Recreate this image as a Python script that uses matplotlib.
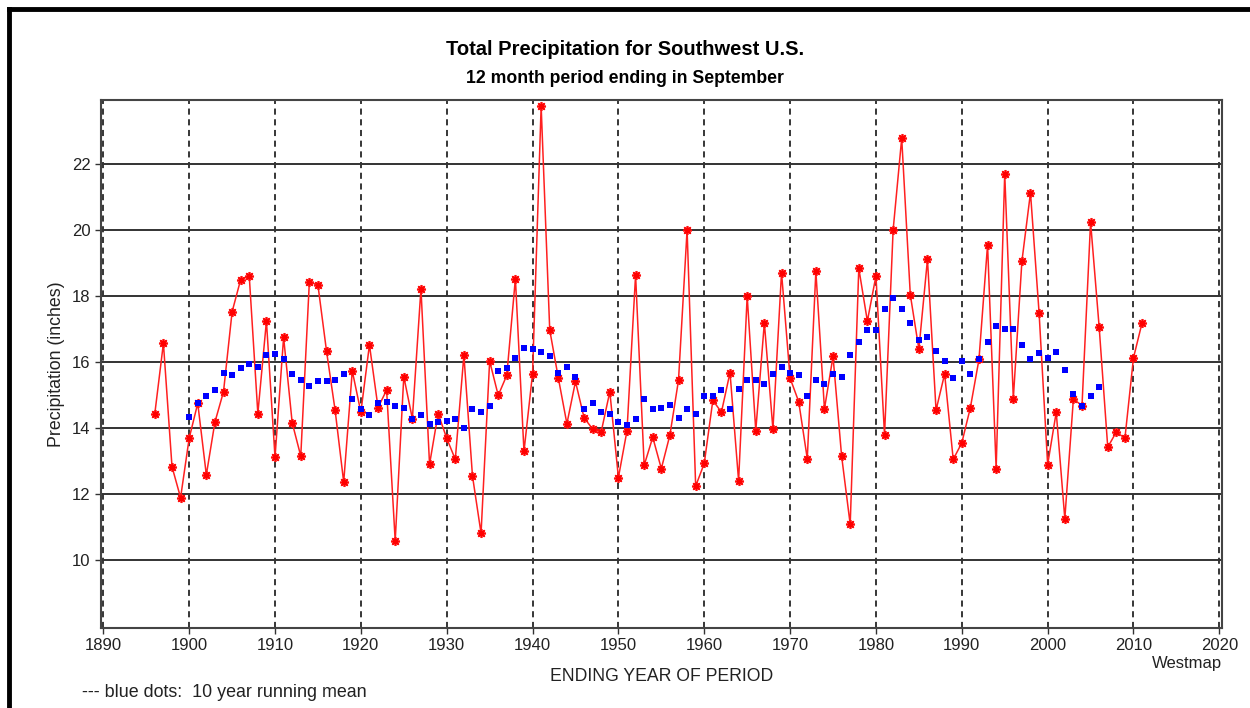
import numpy as np
import matplotlib
matplotlib.use("Agg")
import matplotlib.pyplot as plt
from matplotlib.lines import Line2D

plt.rcParams['font.family'] = ['Liberation Sans', 'DejaVu Sans']

# Annual totals (inches), 12 month period ending in September
years = np.arange(1896, 2012)
precip = [
    14.44, 16.57, 12.83, 11.89, 13.69, 14.75, 12.58, 14.18, 15.10, 17.52,  # 1896-1905
    18.50, 18.60, 14.44, 17.24, 13.11, 16.75, 14.16, 13.15, 18.43, 18.33,  # 1906-1915
    16.33, 14.54, 12.36, 15.73, 14.48, 16.52, 14.62, 15.15, 10.58, 15.56,  # 1916-1925
    14.28, 18.22, 12.90, 14.44, 13.69, 13.05, 16.21, 12.55, 10.81, 16.03,  # 1926-1935
    14.99, 15.60, 18.53, 13.29, 15.65, 23.76, 16.97, 15.52, 14.13, 15.41,  # 1936-1945
    14.31, 13.97, 13.89, 15.10, 12.50, 13.92, 18.64, 12.87, 13.72, 12.77,  # 1946-1955
    13.79, 15.45, 20.00, 12.24, 12.93, 14.84, 14.48, 15.68, 12.40, 18.00,  # 1956-1965
    13.92, 17.19, 13.96, 18.71, 15.51, 14.80, 13.07, 18.75, 14.58, 16.17,  # 1966-1975
    13.15, 11.08, 18.84, 17.24, 18.61, 13.79, 20.00, 22.78, 18.04, 16.39,  # 1976-1985
    19.11, 14.54, 15.64, 13.05, 13.55, 14.62, 16.08, 19.55, 12.77, 21.71,  # 1986-1995
    14.89, 19.05, 21.13, 17.50, 12.89, 14.48, 11.25, 14.89, 14.67, 20.24,  # 1996-2005
    17.06, 13.42, 13.88, 13.69, 16.13, 17.19,                              # 2006-2011
]

# 10 year running mean, 1900-2006
mean_years = np.arange(1900, 2007)
running_mean = [
    14.34, 14.75, 14.98, 15.15, 15.68, 15.60, 15.81, 15.95, 15.86, 16.21,  # 1900-1909
    16.25, 16.08, 15.64, 15.45, 15.28, 15.41, 15.41, 15.45, 15.64, 14.89,  # 1910-1919
    14.59, 14.39, 14.75, 14.80, 14.66, 14.62, 14.28, 14.39, 14.13, 14.18,  # 1920-1929
    14.22, 14.26, 13.99, 14.58, 14.48, 14.66, 15.73, 15.81, 16.12, 16.43,  # 1930-1939
    16.39, 16.30, 16.17, 15.68, 15.86, 15.56, 14.58, 14.75, 14.48, 14.44,  # 1940-1949
    14.18, 14.09, 14.26, 14.89, 14.58, 14.62, 14.71, 14.31, 14.58, 14.44,  # 1950-1959
    14.98, 14.98, 15.15, 14.58, 15.19, 15.45, 15.45, 15.33, 15.64, 15.86,  # 1960-1969
    15.68, 15.60, 14.98, 15.45, 15.33, 15.64, 15.56, 16.21, 16.62, 16.97,  # 1970-1979
    16.97, 17.60, 17.94, 17.60, 17.19, 16.66, 16.75, 16.34, 16.04, 15.51,  # 1980-1989
    16.04, 15.64, 16.08, 16.62, 17.10, 17.00, 17.00, 16.53, 16.08, 16.26,  # 1990-1999
    16.13, 16.30, 15.77, 15.02, 14.67, 14.98, 15.24,                       # 2000-2006
]

x_ticks = np.arange(1890, 2021, 10)
y_ticks = np.arange(10, 23, 2)

fig = plt.figure(figsize=(12.5, 7.08), dpi=100)
ax = fig.add_axes([0.0808, 0.1134, 0.8966, 0.7454])

# grid: dashed verticals, solid horizontals
for xv in x_ticks:
    ax.axvline(xv, color='black', ls=(0, (4, 3)), lw=1.1, zorder=1)
for yv in y_ticks:
    ax.axhline(yv, color='#333333', lw=1.4, zorder=1)

ax.plot(years, precip, color='#ff2020', lw=1.1, zorder=3)
ax.plot(years, precip, ls='none', marker=(8, 2, 0), ms=6.5, mew=1.2,
        color='#ff1010', zorder=4)
ax.plot(years, precip, ls='none', marker='o', ms=3.2, color='#ff0000',
        zorder=4)
ax.plot(mean_years, running_mean, ls='none', marker='s', ms=3.8,
        color='#0000ff', mew=0, zorder=5)

ax.set_xlim(1889.73, 2020.28)
ax.set_ylim(7.95, 23.94)
ax.set_xticks(x_ticks)
ax.set_yticks(y_ticks)
ax.tick_params(direction='out', length=4, width=1, colors='#333333',
               labelsize=12, labelcolor='#222222')
for s in ax.spines.values():
    s.set_color('#444444')
    s.set_linewidth(1.5)

ax.set_ylabel('Precipitation (inches)', fontsize=12.8, color='#222222',
              labelpad=5)
ax.set_xlabel('ENDING YEAR OF PERIOD', fontsize=12.7, color='#222222',
              labelpad=11)

fig.text(0.5, 0.930, 'Total Precipitation for Southwest U.S.', ha='center',
         va='center', fontsize=14.5, fontweight='bold')
fig.text(0.5, 0.889, '12 month period ending in September', ha='center',
         va='center', fontsize=12.7, fontweight='bold')
fig.text(0.978, 0.063, 'Westmap', ha='right', va='center', fontsize=12,
         color='#222222')
fig.text(0.066, 0.022, '--- blue dots:  10 year running mean', ha='left',
         va='center', fontsize=12.9, color='#222222')

# frame on top and left edge
fig.add_artist(Line2D([0.0072, 1.0], [0.9872, 0.9872], color='black', lw=3.5,
                      transform=fig.transFigure))
fig.add_artist(Line2D([0.0072, 0.0072], [0.0, 0.9872], color='black', lw=3.5,
                      transform=fig.transFigure))

fig.savefig('out.png', dpi=100)
